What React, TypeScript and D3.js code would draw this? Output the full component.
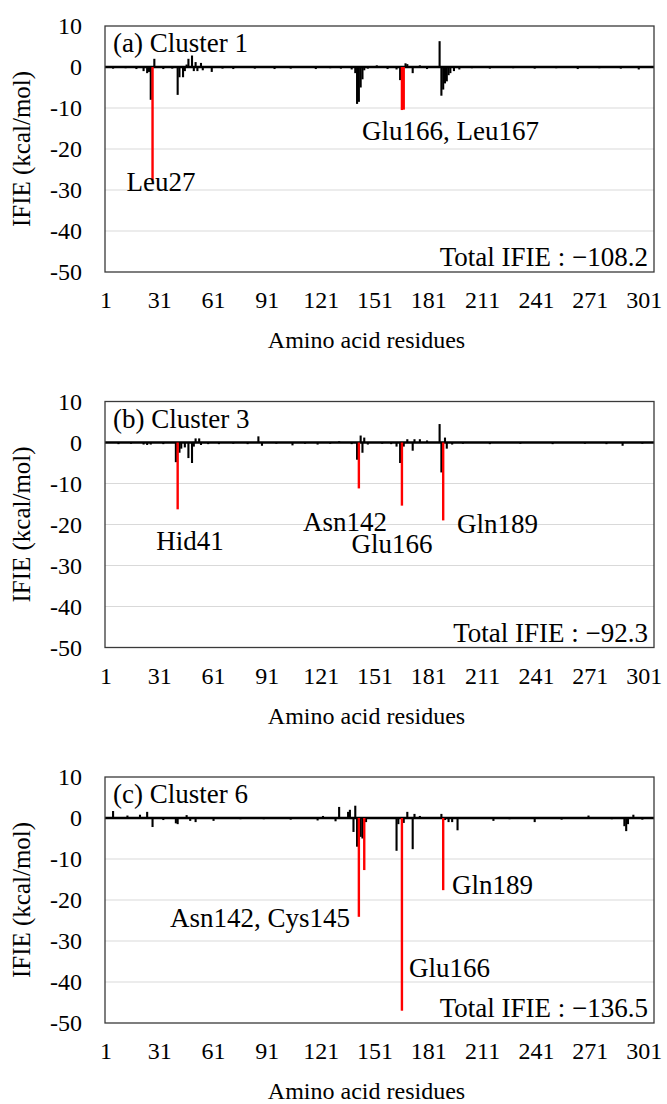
import React from "react";
import * as d3 from "d3";

// ---------- data ----------
const RESIDUE_COUNT = 306;
const xTickLabels = [1, 31, 61, 91, 121, 151, 181, 211, 241, 271, 301];
const yTickValues = [10, 0, -10, -20, -30, -40, -50];

// Cluster 1
const c1Residues = [5, 12, 18, 22, 24, 25, 26, 27, 28, 33, 38, 41, 42, 44, 45, 46, 47, 49, 50, 51, 52, 54, 55, 60, 66, 72, 84, 95, 104, 118, 126, 132, 138, 140, 141, 142, 143, 144, 145, 147, 152, 158, 163, 165, 166, 167, 168, 169, 172, 176, 180, 187, 188, 189, 190, 191, 192, 193, 195, 198, 205, 215, 228, 240, 252, 264, 276, 288, 298];
const c1Values = [-0.4, -0.3, -0.5, -1.0, -1.5, -1.2, -8.0, -27.6, 2.0, -0.5, -0.4, -6.8, -2.5, -2.5, -1.0, 0.6, 2.0, 2.8, -1.0, 1.2, -1.0, 1.0, -0.8, -1.2, -0.4, -0.5, -0.4, -0.5, -0.4, -0.5, -0.3, -0.4, -0.6, -1.5, -9.0, -8.5, -5.0, -3.0, -0.8, -0.4, 0.4, -0.5, -0.6, -3.2, -10.5, -10.4, 0.9, 0.7, -1.5, 0.4, -0.5, 6.3, -7.0, -5.5, -4.0, -3.5, -2.0, -1.5, -1.0, -0.6, -0.3, -0.4, -0.3, -0.4, -0.3, -0.5, -0.3, -0.4, -0.6];
const c1Highlight = [27, 166, 167];

// Cluster 3
const c3Residues = [8, 15, 22, 24, 26, 33, 40, 41, 42, 43, 45, 47, 49, 50, 51, 53, 54, 58, 64, 72, 80, 86, 88, 96, 105, 112, 119, 126, 131, 138, 141, 142, 143, 144, 145, 147, 155, 160, 163, 165, 166, 167, 169, 172, 173, 176, 180, 187, 188, 189, 190, 191, 194, 200, 215, 232, 250, 268, 280, 289, 300];
const c3Values = [-0.4, -0.3, -0.5, -0.6, -0.5, -0.4, -4.8, -16.3, -2.5, -1.5, -1.2, -3.8, -5.0, -1.0, 1.0, 1.0, -0.6, -0.4, -0.4, -0.3, -0.4, 1.5, -0.8, -0.3, -0.7, -0.3, -0.5, -0.3, 0.3, -0.4, -4.2, -11.2, 1.7, -2.5, 1.2, -0.5, -0.3, -0.4, -1.0, -5.0, -15.4, -1.0, 0.8, -2.0, 0.8, 0.8, 0.5, 4.5, -7.3, -19.0, 1.2, -1.5, -0.5, -0.3, -0.4, -0.3, -0.4, -0.3, -0.4, -0.8, -0.3];
const c3Highlight = [41, 142, 166, 189];

// Cluster 6
const c6Residues = [5, 13, 20, 24, 27, 33, 40, 41, 46, 48, 51, 61, 76, 89, 104, 119, 122, 129, 131, 136, 137, 139, 140, 141, 142, 143, 144, 145, 146, 163, 164, 166, 167, 169, 172, 173, 176, 188, 189, 190, 192, 194, 197, 217, 226, 240, 255, 270, 283, 290, 291, 292, 295, 300];
const c6Values = [1.7, 0.6, 0.8, 1.5, -2.2, -0.5, -1.3, -1.5, 0.7, -0.7, -1.0, -0.7, -0.3, -0.3, -0.4, -0.6, 0.5, -0.8, 2.7, 1.5, 2.0, -3.4, 3.0, -7.0, -24.1, -4.6, -5.0, -12.7, -1.0, -8.0, -1.5, -47.0, -1.2, 1.5, -7.6, 1.0, 0.5, 1.0, -17.6, -0.5, -1.0, -1.0, -3.0, -0.7, -0.3, -1.0, -0.4, 0.6, -0.3, -2.0, -3.2, -1.5, 0.8, -0.4];
const c6Highlight = [142, 145, 166, 189];

const panelTitles = ["(a) Cluster 1", "(b) Cluster 3", "(c) Cluster 6"];
const totalIFIE = ["\u2212108.2", "\u221292.3", "\u2212136.5"];

const annotations1 = ["Leu27", "Glu166, Leu167"];
const annotations3 = ["Hid41", "Asn142", "Glu166", "Gln189"];
const annotations6 = ["Asn142, Cys145", "Glu166", "Gln189"];

// ---------- layout ----------
const FONT = "'Liberation Serif', 'Times New Roman', serif";
const PLOT_LEFT = 105;
const PLOT_RIGHT = 654;
const PLOT_HEIGHT = 246;
const PANEL_TOPS = [26, 401.5, 777];
const BIG = 27;

type Ann = { text: string; x: number; y: number; anchor: string };

const annLayout: Ann[][] = [
  [
    { text: annotations1[0], x: 161, y: 191, anchor: "middle" },
    { text: annotations1[1], x: 362, y: 140, anchor: "start" },
  ],
  [
    { text: annotations3[0], x: 190, y: 550, anchor: "middle" },
    { text: annotations3[1], x: 345, y: 531, anchor: "middle" },
    { text: annotations3[2], x: 392, y: 553, anchor: "middle" },
    { text: annotations3[3], x: 457, y: 533, anchor: "start" },
  ],
  [
    { text: annotations6[0], x: 350, y: 927, anchor: "end" },
    { text: annotations6[1], x: 409, y: 977, anchor: "start" },
    { text: annotations6[2], x: 452, y: 894, anchor: "start" },
  ],
];

const panels = [
  { residues: c1Residues, values: c1Values, highlight: c1Highlight },
  { residues: c3Residues, values: c3Values, highlight: c3Highlight },
  { residues: c6Residues, values: c6Values, highlight: c6Highlight },
];

function Panel({ index }: { index: number }) {
  const top = PANEL_TOPS[index];
  const bottom = top + PLOT_HEIGHT;
  const { residues, values, highlight } = panels[index];
  const x = d3
    .scaleBand<number>()
    .domain(d3.range(1, RESIDUE_COUNT + 1))
    .range([PLOT_LEFT, PLOT_RIGHT])
    .padding(0);
  const y = d3.scaleLinear().domain([-50, 10]).range([bottom, top]);
  const bw = x.bandwidth();
  const y0 = y(0);
  const data = residues.map((r, i) => ({ r, v: values[i], hl: highlight.includes(r) }));
  const black = data.filter((d) => !d.hl);
  const red = data.filter((d) => d.hl);
  const bar = (d: { r: number; v: number }, color: string, extra: number) => {
    const yv = y(d.v);
    return (
      <rect
        key={`${color}-${d.r}`}
        x={(x(d.r) as number) - extra / 2}
        width={bw + extra}
        y={Math.min(yv, y0)}
        height={Math.abs(yv - y0)}
        fill={color}
      />
    );
  };
  const midY = (top + bottom) / 2;
  return (
    <g>
      {yTickValues
        .filter((t) => t < 0 && t > -50)
        .map((t) => (
          <line key={t} x1={PLOT_LEFT} x2={PLOT_RIGHT} y1={y(t)} y2={y(t)} stroke="#d9d9d9" strokeWidth={1} />
        ))}
      <line x1={PLOT_LEFT} x2={PLOT_RIGHT} y1={y0} y2={y0} stroke="#000" strokeWidth={2.6} />
      {black.map((d) => bar(d, "#000", 0.3))}
      {red.map((d) => bar(d, "#ff0000", 0.6))}
      <rect x={PLOT_LEFT} y={top} width={PLOT_RIGHT - PLOT_LEFT} height={PLOT_HEIGHT} fill="none" stroke="#3a3a3a" strokeWidth={1.3} />
      {yTickValues.map((t) => (
        <text key={t} x={82} y={y(t)} dy="0.35em" textAnchor="end" fontSize={24} fontFamily={FONT}>
          {t}
        </text>
      ))}
      {xTickLabels.map((t) => (
        <text key={t} x={(x(t) as number) + bw / 2} y={bottom + 36} textAnchor="middle" fontSize={24} fontFamily={FONT}>
          {t}
        </text>
      ))}
      <text x={(PLOT_LEFT + PLOT_RIGHT) / 2 - 13} y={bottom + 76} textAnchor="middle" fontSize={24} fontFamily={FONT}>
        Amino acid residues
      </text>
      <text transform={`translate(30, ${midY}) rotate(-90)`} textAnchor="middle" fontSize={25} fontFamily={FONT}>
        IFIE (kcal/mol)
      </text>
      <text x={113} y={top + 26} fontSize={BIG} fontFamily={FONT}>
        {panelTitles[index]}
      </text>
      <text x={648} y={bottom - 6} textAnchor="end" fontSize={BIG} fontFamily={FONT}>
        {`Total IFIE : ${totalIFIE[index]}`}
      </text>
      {annLayout[index].map((a) => (
        <text key={a.text} x={a.x} y={a.y} textAnchor={a.anchor as any} fontSize={BIG} fontFamily={FONT}>
          {a.text}
        </text>
      ))}
    </g>
  );
}

export default function App() {
  return (
    <svg width={667} height={1104} style={{ position: "absolute", left: 0, top: 0, background: "#fff" }}>
      <rect width={667} height={1104} fill="#fff" />
      {[0, 1, 2].map((i) => (
        <Panel key={i} index={i} />
      ))}
    </svg>
  );
}
